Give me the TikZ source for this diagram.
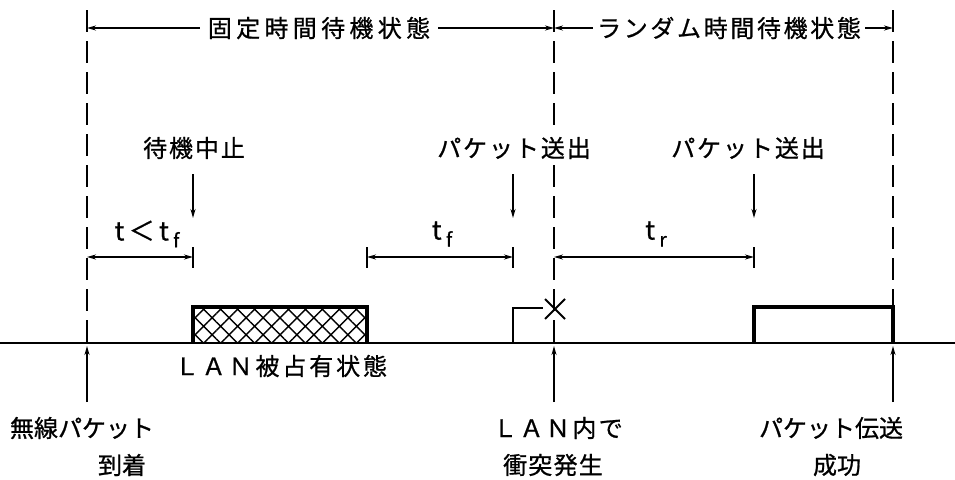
\documentclass[tikz,border=0pt]{standalone}
\usepackage{fontspec}
\newfontfamily\jp[FakeBold=0.8]{Noto Sans CJK JP}
\usetikzlibrary{arrows.meta,patterns.meta}
\tikzset{
  tipend/.style={-{Stealth[length=9pt,width=5pt]}},
  guide/.style={line width=1.8pt, dash pattern=on 22pt off 9pt},
  tick/.style={line width=1.8pt},
  dim/.style={line width=1.4pt, {Stealth[length=9pt,width=5pt]}-{Stealth[length=9pt,width=5pt]}},
  lbl/.style={font={\jp\fontsize{24}{28}\selectfont}, inner sep=0pt},
  toplbl/.style={lbl, inner xsep=8pt, fill=white},
  pulse/.style={line width=3.4pt},
}
\newcommand{\subx}[1]{\,\raisebox{-7pt}{\fontsize{19}{19}\selectfont #1}}
\begin{document}
\begin{tikzpicture}[x=1pt,y=-1pt]
\useasboundingbox (0,0) rectangle (955,479);
% key coordinates
\coordinate (gLt) at (87,10);  \coordinate (gLb) at (87,343);
\coordinate (gMt) at (554,10); \coordinate (gMb) at (554,343);
\coordinate (gRt) at (893,10); \coordinate (gRb) at (893,343);
% dashed guides
\draw[guide] (gLt) -- (gLb);
\draw[guide] (gMt) -- (gMb);
\draw[guide] (gRt) -- (gRb);
% baseline
\coordinate (bl0) at (0,343); \coordinate (bl1) at (955,343);
\draw[line width=2.6pt] (bl0) -- (bl1);
% top labels
\node[toplbl] (fix) at (319,28) {\addfontfeatures{LetterSpace=18}固定時間待機状態};
\node[toplbl, inner xsep=4pt] (rnd) at (729,28) {\addfontfeatures{LetterSpace=11}ランダム時間待機状態};
\coordinate (aL) at (87,28); \coordinate (aM) at (554,28); \coordinate (aR) at (893,28);
\draw[tipend, line width=1.4pt] (fix.west) -- (aL);
\draw[tipend, line width=1.4pt] (fix.east) -- (aM);
\draw[tipend, line width=1.4pt] (rnd.west) -- (aM);
\draw[tipend, line width=1.4pt] (rnd.east) -- (aR);
% event labels with down arrows
\node[lbl, fill=white, inner ysep=4pt] (stop) at (194,148) {\addfontfeatures{LetterSpace=8}待機中止};
\node[lbl, fill=white, inner ysep=4pt] (send1) at (514,148) {\addfontfeatures{LetterSpace=8}パケット送出};
\node[lbl, fill=white, inner ysep=4pt] (send2) at (748,148) {\addfontfeatures{LetterSpace=8}パケット送出};
\coordinate (d1t) at (193,174); \coordinate (d1b) at (193,218);
\coordinate (d2t) at (513,174); \coordinate (d2b) at (513,218);
\coordinate (d3t) at (754,174); \coordinate (d3b) at (754,218);
\draw[tipend, line width=1.6pt] (d1t) -- (d1b);
\draw[tipend, line width=1.6pt] (d2t) -- (d2b);
\draw[tipend, line width=1.6pt] (d3t) -- (d3b);
% dimension ticks
\coordinate (k1t) at (193,247); \coordinate (k1b) at (193,268);
\coordinate (k2t) at (367,247); \coordinate (k2b) at (367,268);
\coordinate (k3t) at (513,247); \coordinate (k3b) at (513,268);
\coordinate (k4t) at (754,247); \coordinate (k4b) at (754,268);
\draw[tick] (k1t) -- (k1b);
\draw[tick] (k2t) -- (k2b);
\draw[tick] (k3t) -- (k3b);
\draw[tick] (k4t) -- (k4b);
% dimension arrows
\coordinate (m1a) at (87,257);  \coordinate (m1b) at (193,257);
\coordinate (m2a) at (367,257); \coordinate (m2b) at (513,257);
\coordinate (m3a) at (554,257); \coordinate (m3b) at (754,257);
\draw[dim] (m1a) -- (m1b);
\draw[dim] (m2a) -- (m2b);
\draw[dim] (m3a) -- (m3b);
\node[lbl, font={\jp\fontsize{26}{28}\selectfont}] (dt1) at (147,234) {t\,＜\,t\subx{f}};
\node[lbl, font={\jp\fontsize{26}{28}\selectfont}] (dt2) at (442,234) {t\subx{f}};
\node[lbl, font={\jp\fontsize{26}{28}\selectfont}] (dt3) at (656,234) {t\subx{r}};
% occupied LAN (hatched)
\coordinate (h0) at (193,343); \coordinate (h1) at (367,307);
\fill[pattern={Hatch[angle=45,distance=12pt,line width=1.4pt]}] (h0) rectangle (h1);
\draw[pulse] (h0) |- (h1) -- (367,343);
% collided transmission
\coordinate (c0) at (513,343); \coordinate (c1) at (543,308);
\draw[line width=2pt] (c0) |- (c1);
\coordinate (xA) at (545,299); \coordinate (xB) at (565,319);
\coordinate (xC) at (545,319); \coordinate (xD) at (565,299);
\draw[line width=2pt] (xA) -- (xB);
\draw[line width=2pt] (xC) -- (xD);
% successful transmission
\coordinate (p0) at (754,343); \coordinate (p1) at (893,307);
\draw[pulse] (p0) |- (p1) -- (893,343);
% bottom labels and up arrows
\node[lbl] (occ) at (281,366) {\addfontfeatures{LetterSpace=12}ＬＡＮ被占有状態};
\coordinate (u1b) at (87,402);  \coordinate (u1t) at (87,346);
\coordinate (u2b) at (554,402); \coordinate (u2t) at (554,346);
\coordinate (u3b) at (893,402); \coordinate (u3t) at (893,346);
\draw[tipend, line width=1.6pt] (u1b) -- (u1t);
\draw[tipend, line width=1.6pt] (u2b) -- (u2t);
\draw[tipend, line width=1.6pt] (u3b) -- (u3t);
\node[lbl] (arr1) at (82,428) {無線パケット};
\node[lbl] (arr2) at (122,465) {到着};
\node[lbl] (col1) at (558,428) {\addfontfeatures{LetterSpace=10}ＬＡＮ内で};
\node[lbl] (col2) at (553,465) {\addfontfeatures{LetterSpace=5}衝突発生};
\node[lbl] (ok1) at (831,428) {パケット伝送};
\node[lbl] (ok2) at (837,465) {成功};
\end{tikzpicture}
\end{document}
